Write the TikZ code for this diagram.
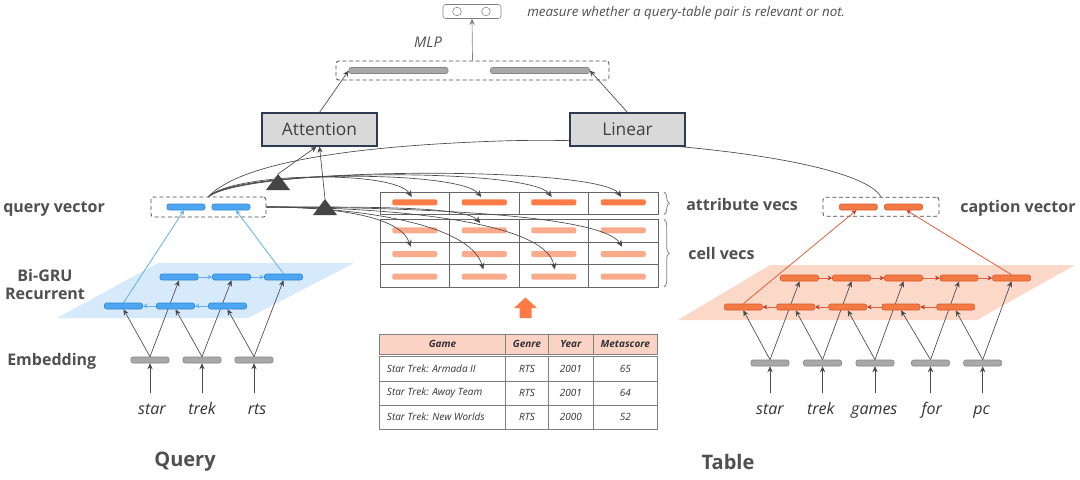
\documentclass[tikz,border=0pt]{standalone}
\usepackage{fontspec}
\setmainfont{Open Sans}
\usetikzlibrary{arrows.meta,decorations.pathreplacing,calc}
\pgfdeclarelayer{bg}
\pgfsetlayers{bg,main}

\definecolor{txt}{HTML}{505050}
\definecolor{wtxt}{HTML}{333333}
\definecolor{bfill}{HTML}{4DA6F2}
\definecolor{bdraw}{HTML}{2E86D4}
\definecolor{bplane}{HTML}{D6EAFC}
\definecolor{bline}{HTML}{62B0F0}
\definecolor{ofill}{HTML}{F47A45}
\definecolor{odraw}{HTML}{D85A28}
\definecolor{oplane}{HTML}{FCD8C8}
\definecolor{oline}{HTML}{E0603A}
\definecolor{ohead}{HTML}{C0392B}
\definecolor{afill}{HTML}{FF7A45}
\definecolor{cfill}{HTML}{F9AB8C}
\definecolor{gfill}{HTML}{A8A8A8}
\definecolor{gdraw}{HTML}{858585}
\definecolor{boxfill}{HTML}{D9D9D9}
\definecolor{boxdraw}{HTML}{2F3B52}
\definecolor{hdr}{HTML}{FBD3C4}
\definecolor{cline}{HTML}{4A4A4A}
\definecolor{grid}{HTML}{666666}
\definecolor{tri}{HTML}{454545}

\begin{document}
\begin{tikzpicture}[x=0.75pt,y=-0.75pt,
  bar/.style={rectangle, rounded corners=1.5pt, minimum height=4.5pt, inner sep=0pt, line width=0.4pt},
  gbar/.style={bar, fill=gfill, draw=gdraw, minimum width=28.5pt},
  bbar/.style={bar, fill=bfill, draw=bdraw, minimum width=28.5pt},
  obar/.style={bar, fill=ofill, draw=odraw, minimum width=28.5pt},
  abar/.style={bar, fill=afill, minimum width=33.75pt},
  cbar/.style={bar, fill=cfill, minimum width=33.75pt},
  mbar/.style={bar, fill=gfill, draw=gdraw, minimum width=74.25pt},
  dbox/.style={draw=cline, dashed, dash pattern=on 3pt off 2pt, rounded corners=2pt, line width=0.6pt, inner sep=0pt},
  lbl/.style={text=txt, font=\bfseries\fontsize{12}{14}\selectfont, inner sep=0pt},
  big/.style={text=txt, font=\bfseries\fontsize{15}{18}\selectfont, inner sep=0pt},
  word/.style={text=wtxt, font=\itshape\fontsize{12}{14}\selectfont, inner sep=0pt, anchor=base, text height=11pt, text depth=3pt},
  opbox/.style={draw=boxdraw, fill=boxfill, line width=0.9pt, minimum width=86.25pt, minimum height=24.75pt, inner sep=0pt, text=txt!80!black, font=\fontsize{13}{15}\selectfont},
  garr/.style={draw=cline, line width=0.5pt, -{Stealth[length=4.5pt,width=4pt]}},
  warr/.style={garr, shorten <=4.5pt},
  carr/.style={draw=cline, line width=0.5pt, -{Stealth[length=5pt,width=4.5pt]}},
  curve/.style={draw=cline, line width=0.5pt},
  barr/.style={draw=bline, line width=0.6pt, -{Stealth[length=3.5pt,width=3.5pt]}},
  oarr/.style={draw=oline, line width=0.6pt, -{Stealth[length=3.5pt,width=3.5pt,color=ohead]}},
  brc/.style={draw=gray, line width=0.6pt, decorate, decoration={brace, amplitude=4pt}},
  ttxt/.style={text=wtxt, font=\itshape\fontsize{7.5}{9}\selectfont, inner sep=0pt},
  thdr/.style={text=wtxt, font=\bfseries\itshape\fontsize{7.5}{9}\selectfont, inner sep=0pt},
  tline/.style={draw=gray, line width=0.7pt}
]
\useasboundingbox (0,0) rectangle (1080,479);

% ---------- background and planes ----------
\begin{pgfonlayer}{bg}
\fill[white] (0,0) rectangle (1080,479);
\fill[bplane] (158,263) -- (354,263) -- (248,318) -- (57,318) -- cycle;
\fill[oplane] (770,265) -- (1075,265) -- (977,320) -- (678,320) -- cycle;
\end{pgfonlayer}

% ---------- query side ----------
\foreach \i/\x in {1/150,2/202,3/254} \node[gbar] (qe\i) at (\x,360) {};
\node[word] (qw1) at (152,414) {star};
\node[word] (qw2) at (202,414) {trek};
\node[word] (qw3) at (257,414) {rts};
\foreach \i/\x in {1/123.5,2/175.5,3/227.5} \node[bbar] (ql\i) at (\x,306) {};
\foreach \i/\x in {1/179,2/231.5,3/283.5} \node[bbar] (qu\i) at (\x,277) {};
\foreach \i in {1,2,3} \draw[warr] (qe\i.south |- qw\i.north) -- (qe\i.south);
\begin{pgfonlayer}{bg}
\foreach \i in {1,2,3} {
  \draw[garr] (qe\i.north) -- (ql\i.south);
  \draw[garr] (qe\i.north) -- (qu\i.south);
}
\end{pgfonlayer}
\draw[barr] (qu1.east) -- (qu2.west);
\draw[barr] (qu2.east) -- (qu3.west);
\draw[barr] (ql2.west) -- (ql1.east);
\draw[barr] (ql3.west) -- (ql2.east);

\node[dbox, minimum width=86.25pt, minimum height=15pt] (qv) at (208.5,207) {};
\node[bbar] (qv1) at (186,207) {};
\node[bbar] (qv2) at (231,207) {};
\draw[barr] (ql1.north) -- ($(qv1.south)+(-2,0)$);
\draw[barr] (qu3.north) -- ($(qv2.south)+(5,0)$);

\node[lbl, anchor=west] (lqv) at (3,209) {query vector};
\node[lbl] (lgru1) at (45,275) {Bi-GRU};
\node[lbl] (lgru2) at (45,294) {Recurrent};
\node[lbl, anchor=west] (lemb) at (7,361) {Embedding};
\node[big] (lquery) at (185,462) {Query};

% ---------- table side ----------
\foreach \i/\x in {1/770,2/822.5,3/875,4/930.5,5/982.7} \node[gbar] (te\i) at (\x,363) {};
\node[word] (tw1) at (770,414) {star};
\node[word] (tw2) at (820.7,414) {trek};
\node[word] (tw3) at (874.3,414) {games};
\node[word] (tw4) at (931.7,414) {for};
\node[word] (tw5) at (981.7,414) {pc};
\foreach \i/\x in {1/743.3,2/795.7,3/847.7,4/901,5/955.7} \node[obar] (tl\i) at (\x,307) {};
\foreach \i/\x in {1/799.5,2/851.5,3/903.5,4/959,5/1011.5} \node[obar] (tu\i) at (\x,278) {};
\foreach \i in {1,...,5} \draw[warr] (te\i.south |- tw\i.north) -- (te\i.south);
\begin{pgfonlayer}{bg}
\foreach \i in {1,...,5} {
  \draw[garr] (te\i.north) -- (tl\i.south);
  \draw[garr] (te\i.north) -- (tu\i.south);
}
\end{pgfonlayer}
\foreach \i/\j in {1/2,2/3,3/4,4/5} \draw[oarr] (tu\i.east) -- (tu\j.west);
\foreach \i/\j in {2/1,3/2,4/3,5/4} \draw[oarr] (tl\i.west) -- (tl\j.east);

\node[dbox, minimum width=87pt, minimum height=14.25pt] (cv) at (881,206.7) {};
\node[obar] (cv1) at (858.3,207) {};
\node[obar] (cv2) at (903.5,207) {};
\draw[oarr] (tl1.north) -- ($(cv1.south)+(-2,0)$);
\draw[oarr] (tu5.north) -- ($(cv2.south)+(3,0)$);

\node[lbl, anchor=west] (lcap) at (960,208) {caption vector};
\node[lbl, anchor=west] (latt) at (686,204) {attribute vecs};
\node[lbl, anchor=west] (lcell) at (688,253) {cell vecs};
\node[big] (ltable) at (728,462) {Table};

% ---------- vector grid ----------
\draw[draw=grid, line width=0.6pt] (380,192) rectangle (658,214.5);
\draw[draw=grid, line width=0.6pt] (380,219.5) rectangle (658,287);
\foreach \y in {242,264.5} \draw[draw=grid, line width=0.6pt] (380,\y) -- (658,\y);
\foreach \x in {449.5,519,588.5} {
  \draw[draw=grid, line width=0.6pt] (\x,192) -- (\x,214.5);
  \draw[draw=grid, line width=0.6pt] (\x,219.5) -- (\x,287);
}
\foreach \c/\x in {1/414.75,2/484.25,3/553.75,4/623.25} {
  \node[abar] (a\c) at (\x,202.3) {};
  \node[cbar] (c1\c) at (\x,230.3) {};
  \node[cbar] (c2\c) at (\x,254) {};
  \node[cbar] (c3\c) at (\x,276.7) {};
}
\draw[brc] (664,192) -- (664,214.5);
\draw[brc] (664,219.5) -- (664,287);

% ---------- big orange arrow ----------
\fill[afill] (519.5,318) -- (519.5,308) -- (514,308) -- (525.5,297.5) -- (537,308) -- (531.5,308) -- (531.5,318) -- cycle;

% ---------- raw table ----------
\fill[hdr] (379.3,334.3) rectangle (657.3,354.3);
\draw[tline] (379.3,334.3) rectangle (657.3,354.3);
\draw[tline] (379.3,356.7) rectangle (657.3,429.3);
\foreach \y in {381,405} \draw[tline] (379.3,\y) -- (657.3,\y);
\foreach \x in {505.7,548.3,593.3} {
  \draw[tline] (\x,334.3) -- (\x,354.3);
  \draw[tline] (\x,356.7) -- (\x,429.3);
}
\node[thdr] (h1) at (442.5,344.3) {Game};
\node[thdr] (h2) at (527,344.3) {Genre};
\node[thdr] (h3) at (570.8,344.3) {Year};
\node[thdr] (h4) at (625.3,344.3) {Metascore};
\foreach \r/\y/\g/\yr/\m in {1/369/{Star Trek: Armada II}/2001/65,2/393/{Star Trek: Away Team}/2001/64,3/417/{Star Trek: New Worlds}/2000/52} {
  \node[ttxt, anchor=west] (g\r) at (386.7,\y) {\g};
  \node[ttxt] (ge\r) at (527,\y) {RTS};
  \node[ttxt] (y\r) at (570.8,\y) {\yr};
  \node[ttxt] (m\r) at (625.3,\y) {\m};
}

% ---------- curves ----------
\draw[curve] (qv.north) .. controls (240,163) and (350,146) .. (500,141) .. controls (650,136) and (860,160) .. (cv.north);
\draw[carr] (qv.north) .. controls (235,172) and (395,170) .. ($(a1.north)+(-3,-2)$);
\draw[carr] (qv.north) .. controls (240,170) and (460,170) .. ($(a2.north)+(-3,-2)$);
\draw[carr] (qv.north) .. controls (245,168) and (530,168) .. ($(a3.north)+(-2,-2)$);
\draw[carr] (qv.north) .. controls (250,166) and (600,166) .. ($(a4.north)+(-2,-2)$);

\draw[carr] (qv.east) .. controls (360,207) and (465,206) .. ($(c12.north)+(-4,-4)$);
\draw[carr] (qv.east) .. controls (330,207) and (400,215) .. ($(c21.north)+(-4,-4)$);
\draw[carr] (qv.east) .. controls (380,207) and (600,212) .. ($(c24.north)+(-1,-4)$);
\draw[carr] (qv.east) .. controls (350,207) and (470,222) .. ($(c32.north)+(-1,-4)$);
\draw[carr] (qv.east) .. controls (370,207) and (545,218) .. ($(c33.north)+(1,-4)$);

% ---------- triangles ----------
\coordinate (t1) at (278,174);
\coordinate (t2) at (325,199);
\fill[tri] (t1) -- ++(12,16) -- ++(-24,0) -- cycle;
\fill[tri] (t2) -- ++(12,16) -- ++(-24,0) -- cycle;

% ---------- top ----------
\node[opbox] (att) at (319.5,129.5) {Attention};
\node[opbox] (lin) at (627.5,129.5) {Linear};
\draw[garr] (t1) -- ($(att.south)+(-3,0)$);
\draw[garr] (t2) -- ($(att.south)+(0,0)$);

\node[dbox, minimum width=204.75pt, minimum height=14.25pt] (mlp) at (472.5,70.5) {};
\node[mbar] (mb1) at (398.5,70.5) {};
\node[mbar] (mb2) at (540,70.5) {};
\draw[garr] (att.north) -- (mb1.west);
\draw[garr] (lin.north) -- (mb2.east);

\node[draw=gray, rounded corners=2pt, minimum width=43.5pt, minimum height=10.5pt, inner sep=0pt] (out) at (472,11.5) {};
\node[draw=gray, circle, minimum size=6.5pt, inner sep=0pt] (o1) at (457,11.5) {};
\node[draw=gray, circle, minimum size=6.5pt, inner sep=0pt] (o2) at (486,11.5) {};
\draw[garr, draw=gray] (mlp.north) -- (out.south);
\node[text=txt, font=\itshape\fontsize{11}{13}\selectfont, inner sep=0pt] (lmlp) at (428,42) {MLP};
\node[text=txt, font=\itshape\fontsize{10}{12}\selectfont, inner sep=0pt, anchor=west] (lmeas) at (527,13) {measure whether a query-table pair is relevant or not.};
\end{tikzpicture}
\end{document}
